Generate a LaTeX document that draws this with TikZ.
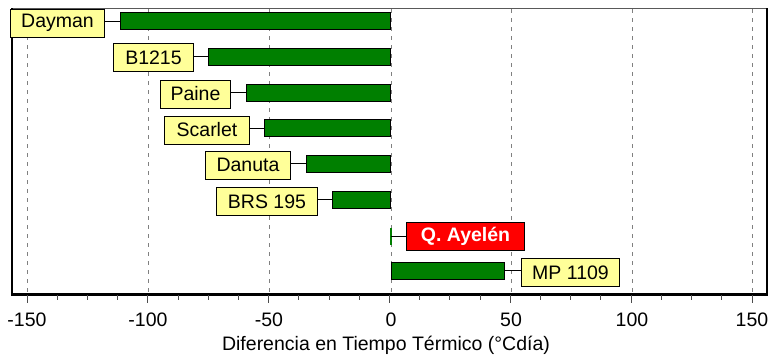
\documentclass[tikz,border=0pt]{standalone}
\usepackage{fontspec}
\setmainfont{Liberation Sans}
\definecolor{boxyellow}{HTML}{FFFF99}
\definecolor{bargreen}{HTML}{007F00}
\definecolor{gridgray}{HTML}{808080}
\begin{document}
\begin{tikzpicture}[x=1pt,y=-1pt,
  lbl/.style={draw=black,line width=1pt,fill=boxyellow,inner sep=0pt,minimum height=28pt,
    font=\fontsize{19.5}{22}\selectfont,anchor=west},
  redlbl/.style={lbl,fill=red,text=white,font=\fontsize{19.5}{22}\selectfont\bfseries},
  barbox/.style={draw=black,line width=1pt,fill=bargreen,inner sep=0pt,minimum height=17pt},
  conn/.style={draw=black,line width=1pt},
  gridline/.style={draw=gridgray,line width=1pt,dash pattern=on 4pt off 5pt},
  ticklbl/.style={font=\fontsize{19.5}{22}\selectfont,anchor=center}]
\useasboundingbox (0,0) rectangle (776,360);
\fill[white] (0,0) rectangle (776,360);
% grid
\foreach \xx in {27,148,269,391,511,632,752}
  \draw[gridline] (\xx,9) -- (\xx,294);
% frame
\draw[line width=1pt,draw=gray!70!black] (12,8) -- (767,8);
\draw[line width=1.2pt,black] (767,8) -- (767,294);
\draw[line width=2.5pt,black] (12,8) -- (12,294.5) -- (768,294.5);
% ticks
\foreach \i in {0,...,24} {
  \pgfmathsetmacro{\xx}{27+\i*30.208}
  \pgfmathtruncatemacro{\mj}{mod(\i,4)==0 ? 1 : 0}
  \ifnum\mj=1 \draw[line width=1pt,gray!60!black] (\xx,295) -- (\xx,303);
  \else \draw[line width=1pt,gray!60!black] (\xx,295) -- (\xx,299.5); \fi
}
\foreach \xx/\t [count=\k] in {27/-150,148/-100,269/-50,391/0,511/50,632/100,752/150}
  \node[ticklbl] (t\k) at (\xx,320) {\t};
\node[ticklbl] (xtitle) at (386,345) {Diferencia en Tiempo Térmico (°Cdía)};
% bars
\node[barbox,minimum width=270pt,anchor=east] (b1) at (391,21) {};
\node[barbox,minimum width=182pt,anchor=east] (b2) at (391,56.5) {};
\node[barbox,minimum width=144pt,anchor=east] (b3) at (391,92.5) {};
\node[barbox,minimum width=126pt,anchor=east] (b4) at (391,128) {};
\node[barbox,minimum width=84pt,anchor=east] (b5) at (391,163.5) {};
\node[barbox,minimum width=58pt,anchor=east] (b6) at (391,199.5) {};
\node[inner sep=0pt,minimum width=1.5pt,minimum height=17pt,fill=bargreen] (b7) at (391,236.5) {};
\node[barbox,minimum width=113pt,anchor=west] (b8) at (391,270.5) {};
% labels
\node[lbl,minimum width=94pt] (l1) at (10,23) {Dayman};
\node[lbl,minimum width=80pt] (l2) at (113,57.5) {B1215};
\node[lbl,minimum width=70pt] (l3) at (160,94) {Paine};
\node[lbl,minimum width=85pt] (l4) at (164,130) {Scarlet};
\node[lbl,minimum width=85pt] (l5) at (205,165) {Danuta};
\node[lbl,minimum width=101pt] (l6) at (216,201.5) {BRS 195};
\node[redlbl,minimum width=118pt] (l7) at (406,236.5) {Q. Ayelén};
\node[lbl,minimum width=98pt] (l8) at (521,272.5) {MP 1109};
% connectors
\foreach \k in {1,...,6}
  \draw[conn] (b\k.west) -- (b\k.west -| l\k.east);
\draw[conn] (b7.center) -- (b7.center -| l7.west);
\draw[conn] (b8.east) -- (b8.east -| l8.west);
\end{tikzpicture}
\end{document}
